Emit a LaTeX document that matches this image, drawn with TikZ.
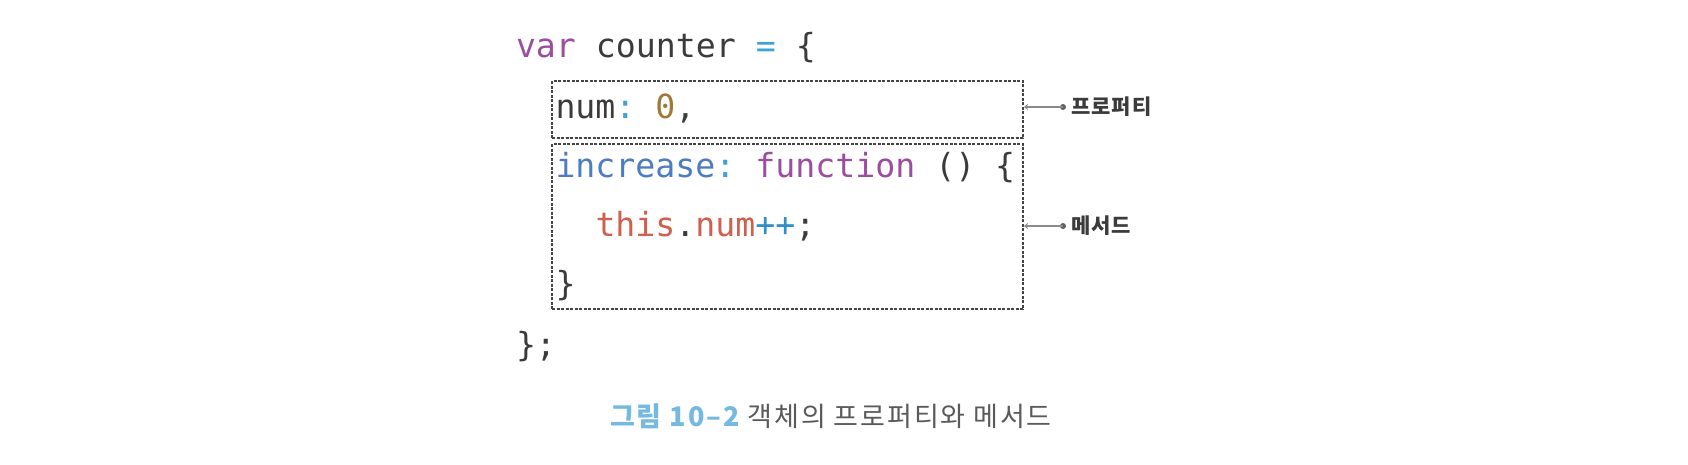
\documentclass[tikz,border=0pt]{standalone}
\usepackage{fontspec}
\newfontfamily\codefont{DejaVu Sans Mono}
\newfontfamily\krfont[LetterSpace=5]{Noto Sans CJK KR}
\newfontfamily\capfont[LetterSpace=7]{Noto Sans CJK KR}
\usetikzlibrary{arrows.meta}
\definecolor{kwpurple}{HTML}{9B4D9F}
\definecolor{propblue}{HTML}{4E7CC2}
\definecolor{opblue}{HTML}{3DA3D6}
\definecolor{incblue}{HTML}{2F8FC6}
\definecolor{salmon}{HTML}{D0604E}
\definecolor{numbrown}{HTML}{A07838}
\definecolor{codedark}{HTML}{3B3B3B}
\definecolor{capblue}{HTML}{74B9E2}
\definecolor{capgray}{HTML}{5A5A5A}
\definecolor{boxgray}{HTML}{444444}
\definecolor{linegray}{HTML}{8A8A8A}
\frenchspacing
\begin{document}
\begin{tikzpicture}[x=1pt,y=-1pt,
  codeline/.style={anchor=base west,inner sep=0pt,outer sep=0pt,
    font=\codefont\fontsize{33.2}{40}\selectfont\frenchspacing,text=codedark},
  codebox/.style={draw=boxgray,line width=2pt,dash pattern=on 3pt off 1.5pt,
    anchor=north west,inner sep=0pt,rectangle},
  sidelabel/.style={anchor=west,inner sep=0pt,font=\krfont\bfseries\fontsize{21}{24}\selectfont,text=codedark},
  pointer/.style={draw=linegray,line width=1.3pt,-{Straight Barb[length=3pt,width=5pt,line width=0.9pt]}},
  pdot/.style={circle,fill=linegray!70!black,inner sep=0pt,minimum size=6pt}
]
\useasboundingbox (0,0) rectangle (1688,464);
% boxes
\node[codebox,minimum width=471pt,minimum height=57pt] (prop) at (551,80) {};
\node[codebox,minimum width=471pt,minimum height=165pt] (meth) at (551,143) {};
% code
\node[codeline] (l1) at (516,57) {\textcolor{kwpurple}{var} counter \textcolor{opblue}{=} \{};
\node[codeline] (l2) at (555.5,118) {num\textcolor{opblue}{:} \textcolor{numbrown}{0},};
\node[codeline] (l3) at (555.5,177) {\textcolor{propblue}{increase}\textcolor{opblue}{:} \textcolor{kwpurple}{function} () \{};
\node[codeline] (l4) at (595.5,236) {\textcolor{salmon}{this}.\textcolor{salmon}{num}\textcolor{incblue}{++};};
\node[codeline] (l5) at (555.5,295) {\}};
\node[codeline] (l6) at (516,356) {\};};
% labels
\node[pdot] (d1) at (1063,107) {};
\node[pdot] (d2) at (1063,226) {};
\node[sidelabel] (t1) at (1071,107) {프로퍼티};
\node[sidelabel] (t2) at (1071,226) {메서드};
\draw[pointer] (d1.center) -- (d1.center -| prop.east);
\draw[pointer] (d2.center) -- (d2.center -| meth.east);
% caption
\node[anchor=base west,inner sep=0pt,font=\capfont\fontsize{27}{32}\selectfont] (cap) at (610,426)
  {\textcolor{capblue}{\bfseries 그림 10–2} \textcolor{capgray}{객체의 프로퍼티와 메서드}};
\end{tikzpicture}
\end{document}
